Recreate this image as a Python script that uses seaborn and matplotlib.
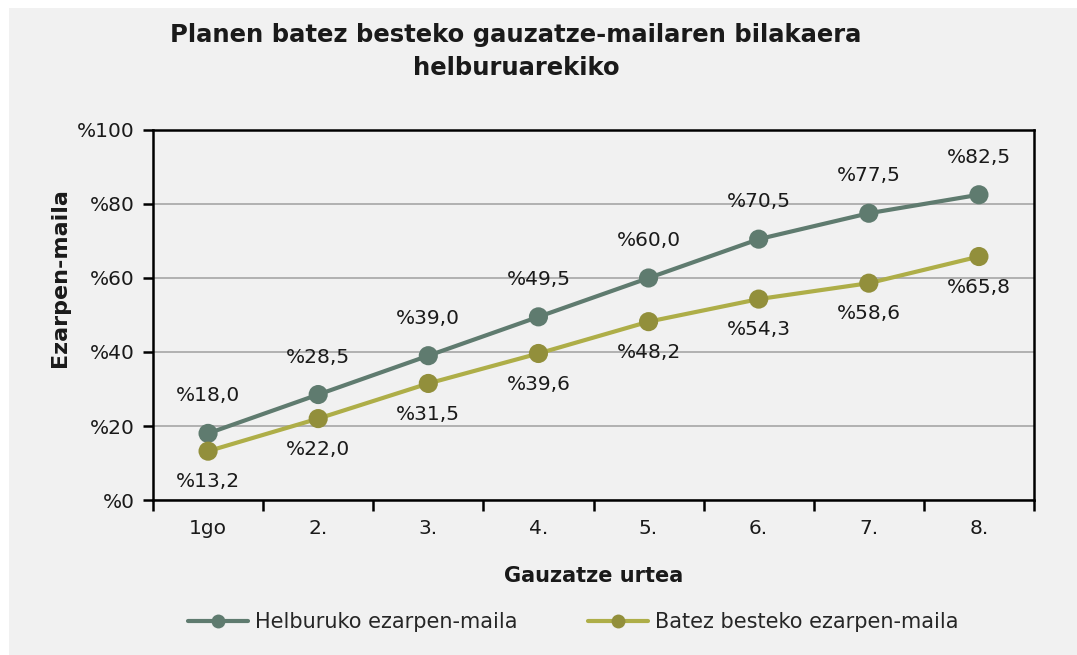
import matplotlib
matplotlib.use("Agg")
from matplotlib import pyplot as plt
from matplotlib.patches import Rectangle
import seaborn as sns
import pandas as pd

# chart data
years = ['1go', '2.', '3.', '4.', '5.', '6.', '7.', '8.']
target = [18.0, 28.5, 39.0, 49.5, 60.0, 70.5, 77.5, 82.5]
average = [13.2, 22.0, 31.5, 39.6, 48.2, 54.3, 58.6, 65.8]
series_names = ['Helburuko ezarpen-maila', 'Batez besteko ezarpen-maila']
y_ticks = [0, 20, 40, 60, 80, 100]

line_colors = ['#5f7b6f', '#aeae48']
marker_colors = ['#5f7b6f', '#928f3b']
bg = '#f1f1f1'

df = pd.DataFrame({
    'pos': list(range(len(years))) * 2,
    'value': target + average,
    'series': [series_names[0]] * len(years) + [series_names[1]] * len(years),
})

sns.set_style('white')
plt.rcParams['font.family'] = ['DejaVu Sans']

fig = plt.figure(figsize=(10.77, 6.55), dpi=100)
fig.patch.set_facecolor('white')
fig.patches.append(Rectangle((9 / 1077, 0), 1, (655 - 8) / 655, transform=fig.transFigure,
                             facecolor=bg, edgecolor='none', zorder=-10))

ax = fig.add_axes([153 / 1077, 155 / 655, 881 / 1077, 370 / 655])
ax.set_facecolor(bg)

sns.lineplot(data=df, x='pos', y='value', hue='series', palette=line_colors,
             linewidth=3, legend=False, ax=ax, zorder=3)
for i, name in enumerate(series_names):
    sub = df[df['series'] == name]
    sns.scatterplot(data=sub, x='pos', y='value', color=marker_colors[i], s=190,
                    edgecolor='none', legend=False, ax=ax, zorder=4)

# data labels: target above, average below
for x, v in zip(range(len(years)), target):
    ax.annotate('%' + f'{v:.1f}'.replace('.', ','), (x, v), xytext=(0, 27),
                textcoords='offset points', ha='center', va='center', fontsize=14.5, color='#1a1a1a')
for x, v in zip(range(len(years)), average):
    ax.annotate('%' + f'{v:.1f}'.replace('.', ','), (x, v), xytext=(0, -22),
                textcoords='offset points', ha='center', va='center', fontsize=14.5, color='#1a1a1a')

ax.set_xlim(-0.5, len(years) - 0.5)
ax.set_ylim(0, 100)
ax.set_yticks(y_ticks)
ax.set_yticklabels(['%' + str(t) for t in y_ticks], fontsize=14.5, color='#1a1a1a')
ax.set_xticks(range(len(years)))
ax.set_xticklabels(years, fontsize=14.5, color='#1a1a1a')
ax.set_xticks([i - 0.5 for i in range(len(years) + 1)], minor=True)
ax.tick_params(axis='both', which='both', bottom=True, left=True)
ax.tick_params(axis='x', which='major', length=0, pad=14)
ax.tick_params(axis='x', which='minor', length=8, width=1.8, color='black', direction='out')
ax.tick_params(axis='y', which='major', length=7, width=1.8, color='black', direction='out', pad=6)
ax.yaxis.grid(True, color='#a6a6a6', linewidth=1.2)
ax.set_axisbelow(True)
for sp in ax.spines.values():
    sp.set_color('black')
    sp.set_linewidth(1.8)

ax.set_xlabel('Gauzatze urtea', fontsize=15, fontweight='bold', labelpad=20, color='#1a1a1a')
ax.set_ylabel('')
fig.text(60 / 1077, 1 - 278 / 655, 'Ezarpen-maila', rotation=90, ha='center', va='center',
         fontsize=16, fontweight='bold', color='#1a1a1a')

fig.text(0.479, 1 - 35 / 655, 'Planen batez besteko gauzatze-mailaren bilakaera',
         ha='center', va='center', fontsize=17.5, fontweight='bold', color='#1a1a1a')
fig.text(0.479, 1 - 68 / 655, 'helburuarekiko',
         ha='center', va='center', fontsize=17.5, fontweight='bold', color='#1a1a1a')

handles = [plt.Line2D([], [], color=line_colors[i], linewidth=3, marker='o', markersize=10,
                      markerfacecolor=marker_colors[i], markeredgecolor='none') for i in range(2)]
fig.legend(handles, series_names, loc='center', bbox_to_anchor=(0.532, 1 - 622 / 655), ncol=2,
           frameon=False, fontsize=15, handlelength=2.9, columnspacing=3.4, handletextpad=0.3)

fig.savefig('out.png', dpi=100, facecolor=fig.get_facecolor())
